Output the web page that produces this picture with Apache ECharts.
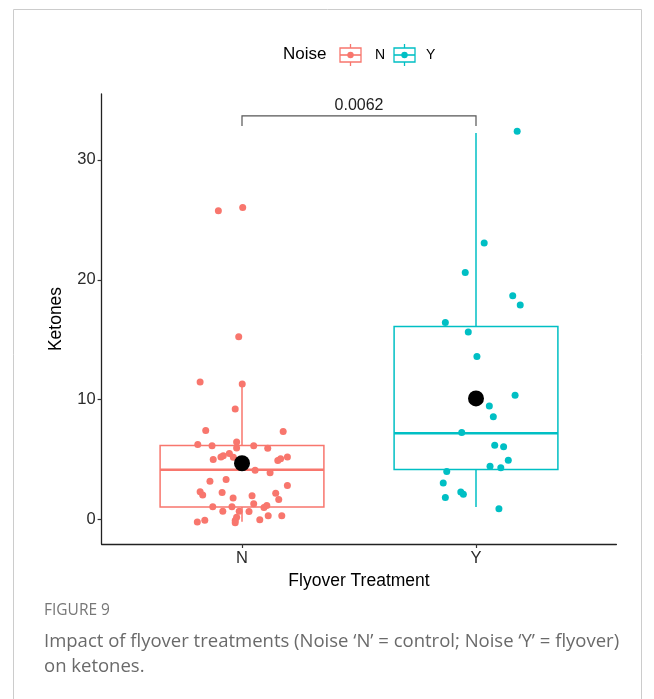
<!DOCTYPE html>
<html><head><meta charset="utf-8">
<script src="https://cdn.jsdelivr.net/npm/echarts@6/dist/echarts.min.js"></script>
<style>html,body{margin:0;padding:0;background:#fff}#c{width:654px;height:699px}</style>
</head><body><div id="c"></div>
<script>
// ---- data ----
const categories = ['N', 'Y'];
const legendTitle = 'Noise';
const nValues = [25.75, 26.03, 15.25, 11.47, 11.31, 9.22, 7.42, 7.33, 6.25, 6.14, 6.47, 5.97, 6.14, 5.94, 5.0, 5.22, 5.31, 5.5, 5.19, 4.92, 5.06, 5.22, 4.11, 3.89, 3.19, 3.33, 2.83, 2.31, 2.03, 2.25, 1.78, 1.97, 2.19, 1.67, 1.31, 1.06, 1.06, 1.0, 1.17, 0.69, 0.69, 0.67, 0.31, 0.31, 0.19, -0.08, -0.03, -0.06, -0.22, -0.28];
const nJitter = [-0.101, 0.003, -0.014, -0.179, 0.001, -0.029, -0.155, 0.176, -0.189, -0.128, -0.023, -0.023, 0.050, 0.110, -0.123, -0.090, -0.080, -0.054, -0.037, 0.153, 0.165, 0.194, 0.056, 0.120, -0.137, -0.068, 0.194, -0.179, -0.168, -0.085, -0.038, 0.043, 0.144, 0.157, 0.050, -0.125, -0.043, 0.094, 0.106, -0.082, -0.012, 0.030, 0.112, 0.170, -0.023, -0.029, 0.076, -0.159, -0.191, -0.029];
const yValues = [32.4, 23.06, 20.6, 18.67, 17.9, 16.44, 15.64, 13.6, 10.36, 9.47, 8.56, 7.25, 6.19, 6.06, 4.94, 4.44, 4.31, 4.0, 3.03, 2.28, 2.11, 1.83, 0.89];
const yJitter = [0.176, 0.035, -0.046, 0.157, 0.189, -0.131, -0.033, 0.004, 0.167, 0.057, 0.074, -0.061, 0.080, 0.118, 0.138, 0.060, 0.106, -0.125, -0.140, -0.065, -0.054, -0.131, 0.098];
// box stats: [lower whisker, Q1, median, Q3, upper whisker]
const boxStats = [[-0.2, 1.03, 4.14, 6.17, 11.31], [1.03, 4.17, 7.19, 16.1, 32.25]];
const means = [4.69, 10.1];
const pValue = '0.0062';
const bracketY = [33.67, 32.83]; // bar level, end level
const yTicks = [0, 10, 20, 30];
const xTitle = 'Flyover Treatment';
const yTitle = 'Ketones';
const figLabel = 'FIGURE 9';
const captionLines = ['Impact of flyover treatments (Noise \u2018N\u2019 = control; Noise \u2018Y\u2019 = flyover)', 'on ketones.'];

// ---- styles ----
const colors = ['#F8766D', '#00BFC4'];
const FONT = "'Liberation Sans', Arial, sans-serif";
const chart = echarts.init(document.getElementById('c'));

function boxItem(params, api) {
  const i = api.value(0);
  const lo = api.value(1), q1 = api.value(2), md = api.value(3), q3 = api.value(4), hi = api.value(5);
  const hw = 0.35;
  const tl = api.coord([i - hw, q3]);
  const br = api.coord([i + hw, q1]);
  const cx = api.coord([i, md])[0];
  const my = api.coord([i, md])[1];
  const hy = api.coord([i, hi])[1];
  const ly = api.coord([i, lo])[1];
  const col = colors[params.dataIndex];
  return { type: 'group', children: [
    { type: 'line', shape: { x1: cx, y1: hy, x2: cx, y2: tl[1] }, style: { stroke: col, lineWidth: 1.5 } },
    { type: 'line', shape: { x1: cx, y1: br[1], x2: cx, y2: ly }, style: { stroke: col, lineWidth: 1.5 } },
    { type: 'rect', shape: { x: tl[0], y: tl[1], width: br[0] - tl[0], height: br[1] - tl[1] }, style: { stroke: col, fill: '#fff', lineWidth: 1.5 } },
    { type: 'line', shape: { x1: tl[0], y1: my, x2: br[0], y2: my }, style: { stroke: col, lineWidth: 2.6 } }
  ]};
}

function bracketItem(params, api) {
  const a = api.value(0), b = api.value(1), top = api.value(2), end = api.value(3);
  const p1 = api.coord([a, end]), p2 = api.coord([a, top]), p3 = api.coord([b, top]), p4 = api.coord([b, end]);
  return { type: 'group', children: [
    { type: 'polyline', shape: { points: [p1, p2, p3, p4] }, style: { stroke: '#555', lineWidth: 1.2, fill: null } },
    { type: 'text', x: (p2[0] + p3[0]) / 2, y: p2[1] - 2, style: { text: pValue, fill: '#222', font: '16px ' + FONT, align: 'center', verticalAlign: 'bottom' } }
  ]};
}

const legendGraphic = [];
legendGraphic.push({ type: 'text', left: 283, top: 46, style: { text: legendTitle, fill: '#000', font: '17px ' + FONT } });
const keyX = [340, 394];
const labX = [375, 426];
categories.forEach((c, k) => {
  const x = keyX[k], col = colors[k];
  legendGraphic.push(
    { type: 'line', shape: { x1: x + 10.5, y1: 44, x2: x + 10.5, y2: 66 }, style: { stroke: col, lineWidth: 1.3 } },
    { type: 'rect', shape: { x: x, y: 48, width: 21, height: 14 }, style: { stroke: col, fill: '#fff', lineWidth: 1.3 } },
    { type: 'line', shape: { x1: x, y1: 55, x2: x + 21, y2: 55 }, style: { stroke: col, lineWidth: 1.6 } },
    { type: 'circle', shape: { cx: x + 10.5, cy: 55, r: 3.2 }, style: { fill: col } },
    { type: 'text', left: labX[k], top: 48, style: { text: c, fill: '#000', font: '14px ' + FONT } }
  );
});

chart.setOption({
  animation: false,
  grid: { left: 101.6, top: 94, width: 514.8, height: 450 },
  xAxis: {
    type: 'value', min: 0.4, max: 2.6,
    name: xTitle, nameLocation: 'middle', nameGap: 28,
    nameTextStyle: { color: '#000', fontSize: 17.5, fontFamily: FONT },
    axisLine: { show: true, onZero: false, lineStyle: { color: '#222', width: 1.3 } },
    axisTick: { show: true, length: 4, customValues: [1, 2], lineStyle: { color: '#333', width: 1.2 } },
    axisLabel: { customValues: [1, 2], formatter: v => categories[Math.round(v) - 1], color: '#2b2b2b', fontSize: 16.5, fontFamily: FONT, margin: 6 },
    splitLine: { show: false }
  },
  yAxis: {
    type: 'value', min: -2.05, max: 35.5,
    name: yTitle, nameLocation: 'middle', nameGap: 36, nameRotate: 90,
    nameTextStyle: { color: '#000', fontSize: 17.5, fontFamily: FONT },
    axisLine: { show: true, onZero: false, lineStyle: { color: '#222', width: 1.3 } },
    axisTick: { show: true, length: 4, customValues: yTicks, lineStyle: { color: '#333', width: 1.2 } },
    axisLabel: { customValues: yTicks, color: '#2b2b2b', fontSize: 16.5, fontFamily: FONT, margin: 6 },
    splitLine: { show: false }
  },
  graphic: [
    { type: 'rect', shape: { x: 13.5, y: 9.5, width: 628, height: 720 }, style: { stroke: '#cccccc', fill: null, lineWidth: 1 }, silent: true },
    ...legendGraphic,
    { type: 'text', left: 44, top: 603, style: { text: figLabel, fill: '#777', font: '15.5px "Open Sans", sans-serif' } },
    { type: 'text', left: 44, top: 629, style: { text: captionLines.join('\n'), fill: '#6a6a6a', font: '18.5px "Open Sans", sans-serif', lineHeight: 25 } }
  ],
  series: [
    { type: 'custom', renderItem: boxItem, encode: { x: 0, y: [1, 2, 3, 4, 5] }, data: boxStats.map((s, k) => [k + 1, ...s]), z: 1 },
    { type: 'custom', renderItem: bracketItem, encode: { x: [0, 1], y: [2, 3] }, data: [[1, 2, bracketY[0], bracketY[1]]], z: 1 },
    { type: 'scatter', symbolSize: 7, itemStyle: { color: colors[0], opacity: 1 }, data: nValues.map((v, k) => [1 + nJitter[k], v]), z: 2 },
    { type: 'scatter', symbolSize: 7, itemStyle: { color: colors[1], opacity: 1 }, data: yValues.map((v, k) => [2 + yJitter[k], v]), z: 2 },
    { type: 'scatter', symbolSize: 16, itemStyle: { color: '#000', opacity: 1 }, data: means.map((m, k) => [k + 1, m]), z: 3 }
  ]
});
</script>
</body></html>
